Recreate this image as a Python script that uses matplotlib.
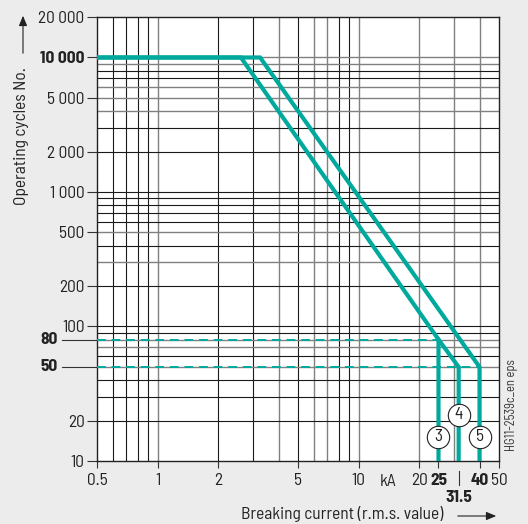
import matplotlib
matplotlib.use("Agg")
import matplotlib.pyplot as plt
from matplotlib.transforms import blended_transform_factory
from matplotlib.patches import FancyArrowPatch

plt.rcParams['font.family'] = ['Barlow Semi Condensed', 'Barlow Condensed', 'DejaVu Sans']

# ---- data ----
curve3_x = [0.5, 2.6, 25, 25]
curve3_y = [10000, 10000, 80, 10]
curve4_x = [25, 31.5, 31.5]
curve4_y = [80, 50, 10]
curve5_x = [0.5, 3.24, 40, 40]
curve5_y = [10000, 10000, 50, 10]
dash80_x = [0.5, 25]
dash80_y = [80, 80]
dash50_x = [0.5, 40]
dash50_y = [50, 50]
markers = [("3", 25, 15.1), ("4", 31.5, 22), ("5", 40, 15.1)]

x_ticks = [0.5, 1, 2, 5, 10, 20, 25, 40, 50]
x_labels = ["0.5", "1", "2", "5", "10", "20", "25", "40", "50"]
x_bold = ["25", "40"]
y_ticks = [10, 20, 100, 200, 500, 1000, 2000, 5000, 10000, 20000]
y_labels = ["10", "20", "100", "200", "500", "1\u2009000", "2\u2009000", "5\u2009000", "10\u2009000", "20\u2009000"]
y_bold = ["10\u2009000"]
y_special = [80, 50]

grid_x_dark = [0.6, 0.7, 0.8, 0.9, 2, 3, 5, 8, 9]
grid_x_light = [1, 4, 6, 7, 10, 20, 30, 40]
grid_y_dark = [20, 30, 40, 60, 90, 100, 200, 400, 600, 700, 800, 900, 1000, 2000, 3000, 7000, 8000]
grid_y_light = [50, 70, 80, 300, 500, 4000, 5000, 6000, 9000, 10000]

teal = "#00A99D"
bg = "#ECECEC"
ink = "#222222"
FS = 12.5

fig = plt.figure(figsize=(5.28, 5.24), dpi=100, facecolor=bg)
ax = fig.add_axes([97/528, 1-461/524, (499-97)/528, (461-17)/524])
ax.set_facecolor("white")
ax.set_xscale("log")
ax.set_yscale("log")
ax.set_xlim(0.5, 50)
ax.set_ylim(10, 20000)

for v in grid_x_dark:
    ax.axvline(v, color="#1a1a1a", lw=0.8, zorder=1)
for v in grid_x_light:
    ax.axvline(v, color="#808080", lw=1.0, zorder=1)
for v in grid_y_dark:
    ax.plot([0.5, 50], [v, v], color="#1a1a1a", lw=0.8, zorder=1)
for v in grid_y_light:
    ax.plot([0.5, 50], [v, v], color="#808080", lw=1.0, zorder=1)

ax.plot(dash80_x, dash80_y, color=teal, lw=1.4, dashes=(4.5, 3.0), zorder=3)
ax.plot(dash50_x, dash50_y, color=teal, lw=1.4, dashes=(4.5, 3.0), zorder=3)
for cx, cy in [(curve3_x, curve3_y), (curve4_x, curve4_y), (curve5_x, curve5_y)]:
    ax.plot(cx, cy, color=teal, lw=3.0, solid_joinstyle="miter", zorder=4)

for lab, mx, my in markers:
    ax.scatter([mx], [my], s=260, facecolor="white", edgecolor=ink, linewidths=0.8, zorder=5)
    ax.text(mx, my, lab, ha="center", va="center", fontsize=FS, color=ink, zorder=6)

for s in ax.spines.values():
    s.set_color(ink)
    s.set_linewidth(1.0)

ax.minorticks_off()
ax.set_xticks(x_ticks)
ax.set_xticklabels(x_labels)
ax.set_yticks(y_ticks)
ax.set_yticklabels(y_labels)
ax.tick_params(axis="both", length=5, width=0.8, color="#333333", labelsize=FS, labelcolor=ink)
ax.tick_params(axis="x", pad=3.5)
ax.tick_params(axis="y", length=7, pad=2)
for t in ax.get_xticklabels():
    if t.get_text() in x_bold:
        t.set_fontweight("bold")
for t in ax.get_yticklabels():
    if t.get_text() in y_bold:
        t.set_fontweight("bold")

# special y ticks 80 and 50
ty = blended_transform_factory(ax.transAxes, ax.transData)
for v in y_special:
    ax.plot([-0.087, 0], [v, v], color="#333333", lw=0.8, transform=ty, clip_on=False)
    ax.text(-0.097, v, str(v), transform=ty, ha="right", va="center", fontsize=FS,
            fontweight="bold", color=ink)

# kA and 31.5
tx = blended_transform_factory(ax.transData, fig.transFigure)
ax.text(14.0, 1-481/524, "kA", transform=tx, ha="center", va="center", fontsize=FS, color=ink)
ax.plot([31.5, 31.5], [1-471/524, 1-485/524], color="#333333", lw=0.8, transform=tx, clip_on=False)
ax.text(31.5, 1-497/524, "31.5", transform=tx, ha="center", va="center", fontsize=FS,
        fontweight="bold", color=ink)

# axis labels with arrows
fig.text(443/528, 1-514/524, "Breaking current (r.m.s. value)", ha="right", va="center",
         fontsize=FS, color=ink)
fig.add_artist(FancyArrowPatch((455/528, 1-516/524), (499/528, 1-516/524),
               transform=fig.transFigure, arrowstyle="-|>,head_length=6,head_width=2.5",
               color=ink, lw=0.8))
fig.text(22/528, 1-136/524, "Operating cycles No.", ha="center", va="center", rotation=90,
         fontsize=FS, color=ink)
fig.add_artist(FancyArrowPatch((23/528, 1-56/524), (23/528, 1-13/524),
               transform=fig.transFigure, arrowstyle="-|>,head_length=6,head_width=2.5",
               color=ink, lw=0.8))

fig.text(512/528, 1-405/524, "HG11-2539c_en eps", rotation=90, ha="center", va="center",
         fontsize=9, color="#333333")

fig.savefig("out.png", dpi=100, facecolor=bg)
